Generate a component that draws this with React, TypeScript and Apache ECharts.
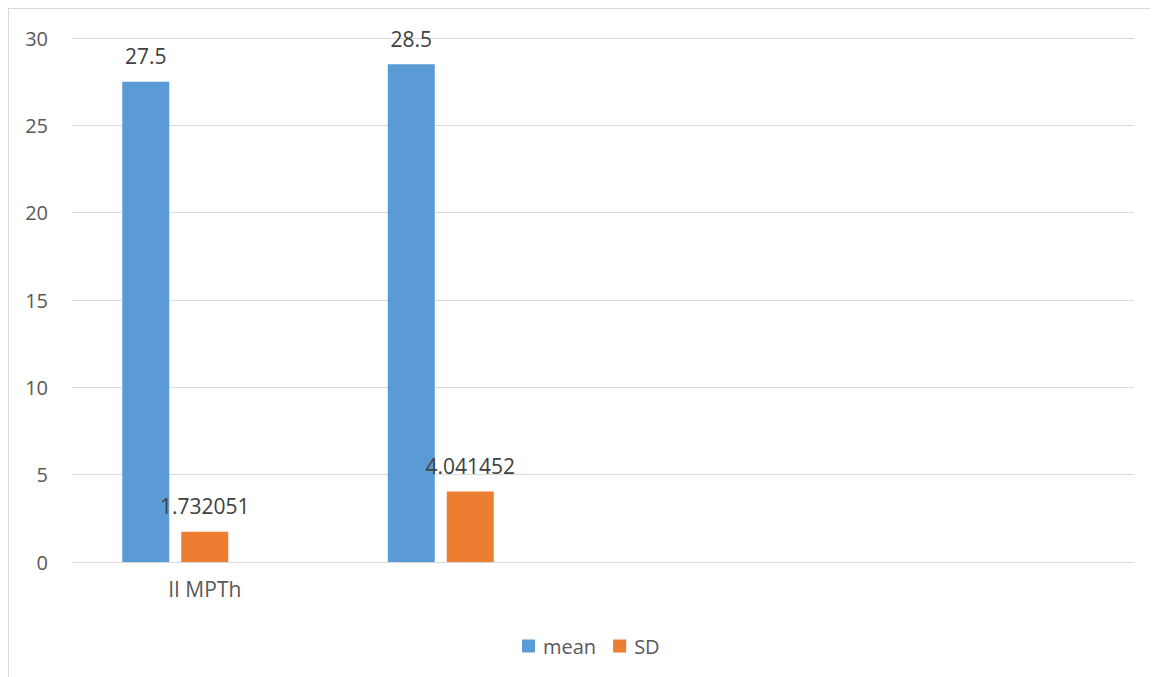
import React, { useEffect, useRef } from "react";
import * as echarts from "echarts";

const categories = ["II MPTh", "", "", ""];
const meanValues = [27.5, 28.5, null, null];
const sdValues = [1.732051, 4.041452, null, null];
const blankValues = [null, null, null, null];
const yTicks = { min: 0, max: 30, interval: 5 };

const FONT = "'Open Sans', 'Noto Sans', sans-serif";

export default function App() {
  const ref = useRef<HTMLDivElement>(null);
  useEffect(() => {
    if (!ref.current) return;
    const chart = echarts.init(ref.current, undefined, { renderer: "svg" });
    const W = 1150;
    const H = 669;
    const label = {
      show: true,
      position: "top",
      distance: 15,
      color: "#404040",
      fontSize: 21,
      fontFamily: FONT,
    };
    chart.setOption({
      animation: false,
      textStyle: { fontFamily: FONT },
      graphic: [
        { type: "line", shape: { x1: 0, y1: 0.5, x2: W, y2: 0.5 }, style: { stroke: "#d9d9d9", lineWidth: 1 } },
        { type: "line", shape: { x1: 0.5, y1: 0, x2: 0.5, y2: H }, style: { stroke: "#d9d9d9", lineWidth: 1 } },
      ],
      grid: { left: 64, right: 24, top: 30, bottom: 115, containLabel: false },
      legend: {
        data: ["mean", "SD"],
        bottom: 16,
        left: 509,
        icon: "rect",
        itemWidth: 13,
        itemHeight: 13,
        itemGap: 17,
        textStyle: { color: "#595959", fontSize: 20, fontFamily: FONT, padding: [0, 0, 0, 3] },
      },
      xAxis: {
        type: "category",
        data: categories,
        axisLine: { lineStyle: { color: "#d9d9d9", width: 1 } },
        axisTick: { show: false },
        axisLabel: { color: "#595959", fontSize: 21, fontFamily: FONT, margin: 16, interval: 0 },
      },
      yAxis: {
        type: "value",
        min: yTicks.min,
        max: yTicks.max,
        interval: yTicks.interval,
        axisLine: { show: false },
        axisTick: { show: false },
        splitLine: { lineStyle: { color: "#d9d9d9", width: 1 } },
        axisLabel: { color: "#595959", fontSize: 20, fontFamily: FONT, margin: 24 },
      },
      series: [
        { name: "mean", type: "bar", data: meanValues, barWidth: 47, barGap: "25.5%", itemStyle: { color: "#5B9BD5" }, label },
        { name: "SD", type: "bar", data: sdValues, barWidth: 47, barGap: "25.5%", itemStyle: { color: "#ED7D31" }, label },
        { name: "blank", type: "bar", data: blankValues, barWidth: 47, barGap: "25.5%", itemStyle: { color: "#A5A5A5" } },
      ],
    });
    return () => chart.dispose();
  }, []);
  return <div ref={ref} style={{ width: 1150, height: 669 }} />;
}
